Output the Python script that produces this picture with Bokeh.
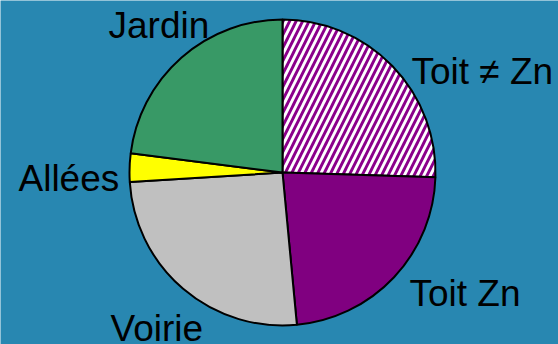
import math
from bokeh.plotting import figure
from bokeh.models import Range1d
from bokeh.embed import file_html
from bokeh.resources import INLINE
from bokeh.core.properties import value

# data
categories = ["Toit ≠ Zn", "Toit Zn", "Voirie", "Allées", "Jardin"]
shares = [25.5, 23.0, 25.5, 3.0, 23.0]
colors = ["#8B008B", "#800080", "#C0C0C0", "#FFFF00", "#389966"]
hatched = [True, False, False, False, False]

# layout (pixel-space label anchors: left x, y from bottom)
W, H = 558, 344
CX, CY, R = 282, 172, 153
label_pos = [(411, 273), (409, 51), (110, 16), (18, 166), (108, 319)]

p = figure(width=W, height=H, output_backend="svg", toolbar_location=None,
           x_range=Range1d(0, W), y_range=Range1d(0, H), min_border=0,
           background_fill_color="#2887B1", border_fill_color="#2887B1")
p.axis.visible = False
p.grid.visible = False
p.outline_line_color = None

total = sum(shares)
start = math.pi / 2
starts, ends = [], []
for s in shares:
    a = s / total * 2 * math.pi
    starts.append(start)
    ends.append(start - a)
    start -= a

for i in range(len(shares)):
    kw = {}
    if hatched[i]:
        kw = dict(hatch_pattern="/", hatch_color="white", hatch_scale=13, hatch_weight=2.8)
    p.wedge(x=CX, y=CY, radius=R, start_angle=starts[i], end_angle=ends[i],
            direction="clock", fill_color=colors[i], line_color="black",
            line_width=2, **kw)

for (lx, ly), name in zip(label_pos, categories):
    p.text(x=[lx], y=[ly], text=[name], text_font=value("Liberation Sans"),
           text_font_size="37px", text_color="black", text_align="left",
           text_baseline="alphabetic")

open("out.html", "w").write(file_html(p, INLINE))
